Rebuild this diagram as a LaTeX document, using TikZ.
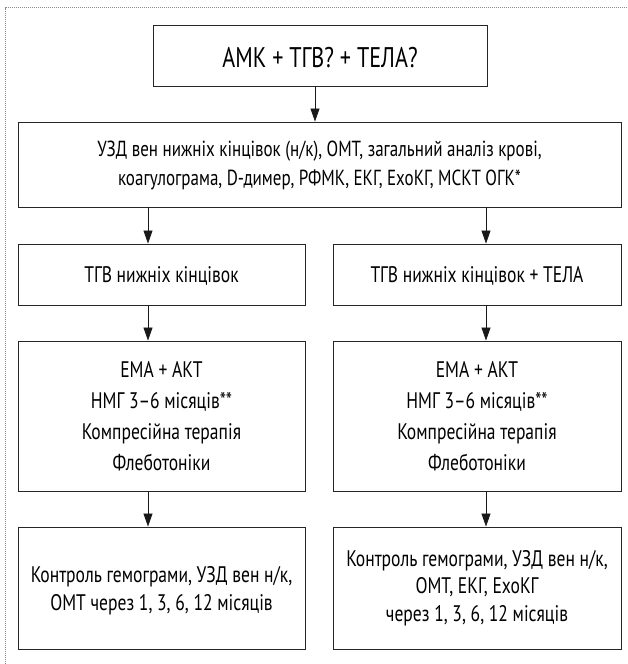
\documentclass[tikz,border=0pt]{standalone}
\usepackage{fontspec}
\setmainfont{PT Sans}[FakeStretch=0.78]
\usetikzlibrary{arrows.meta}
\tikzset{
  box/.style={draw=black!85, line width=0.9pt, rectangle, inner sep=0pt, fill=white},
  txt/.style={align=center, inner sep=0pt},
  arr/.style={draw=black!90, line width=0.8pt, -{Triangle[length=13pt,width=9pt]}},
}
\begin{document}
\begin{tikzpicture}[x=1pt,y=1pt]
\useasboundingbox (0,0) rectangle (627,-664);
\draw[black!45, line width=0.7pt, dash pattern=on 0.8pt off 1.2pt] (5,-664) -- (5,-7.5) -- (627,-7.5);

\coordinate (ax0) at (315,0);
\coordinate (axl) at (148,0);
\coordinate (axr) at (486,0);

% boxes
\node[box, minimum width=334, minimum height=61] (b1) at (320,-55.5) {};
\node[box, minimum width=603, minimum height=85] (b2) at (319.5,-164.5) {};
\node[box, minimum width=287, minimum height=61] (b3l) at (161.5,-274.5) {};
\node[box, minimum width=288, minimum height=61] (b3r) at (477,-274.5) {};
\node[box, minimum width=287, minimum height=150] (b4l) at (161.5,-416) {};
\node[box, minimum width=288, minimum height=150] (b4r) at (477,-416) {};
\node[box, minimum width=287, minimum height=122] (b5l) at (161.5,-588) {};
\node[box, minimum width=288, minimum height=122] (b5r) at (477,-588) {};

% texts
\node[txt, font=\fontsize{28.4}{32}\selectfont] (t1) at ([yshift=-2pt]b1.center) {АМК + ТГВ? + ТЕЛА?};
\node[txt, font=\fontsize{21.8}{28.5}\selectfont] (t2) at ([yshift=-1pt]b2.center)
  {УЗД вен нижніх кінцівок (н/к), ОМТ, загальний аналіз крові,\\коагулограма, D-димер, РФМК, ЕКГ, ЕхоКГ, МСКТ ОГК*};
\node[txt, font=\fontsize{22.5}{30}\selectfont] (t3l) at ([yshift=-1pt]b3l.center) {ТГВ нижніх кінцівок};
\node[txt, font=\fontsize{22.5}{30}\selectfont] (t3r) at ([yshift=-1pt]b3r.center) {ТГВ нижніх кінцівок + ТЕЛА};
\node[txt, font=\fontsize{22.5}{31}\selectfont] (t4l) at (b4l.center)
  {ЕМА + АКТ\\НМГ 3–6 місяців**\\Компресійна терапія\\Флеботоніки};
\node[txt, font=\fontsize{22.5}{31}\selectfont] (t4r) at (b4r.center)
  {ЕМА + АКТ\\НМГ 3–6 місяців**\\Компресійна терапія\\Флеботоніки};
\node[txt, font=\fontsize{22.5}{28}\selectfont] (t5l) at ([yshift=-3pt]b5l.center)
  {Контроль гемограми, УЗД вен н/к,\\ОМТ через 1, 3, 6, 12 місяців};
\node[txt, font=\fontsize{22.5}{27.5}\selectfont] (t5r) at (b5r.center)
  {Контроль гемограми, УЗД вен н/к,\\ОМТ, ЕКГ, ЕхоКГ\\через 1, 3, 6, 12 місяців};

% connectors
\draw[arr] (b1.south -| ax0) -- (b2.north -| ax0);
\draw[arr] (b2.south -| axl) -- (b3l.north -| axl);
\draw[arr] (b2.south -| axr) -- (b3r.north -| axr);
\draw[arr] (b3l.south -| axl) -- (b4l.north -| axl);
\draw[arr] (b3r.south -| axr) -- (b4r.north -| axr);
\draw[arr] (b4l.south -| axl) -- (b5l.north -| axl);
\draw[arr] (b4r.south -| axr) -- (b5r.north -| axr);
\end{tikzpicture}
\end{document}
